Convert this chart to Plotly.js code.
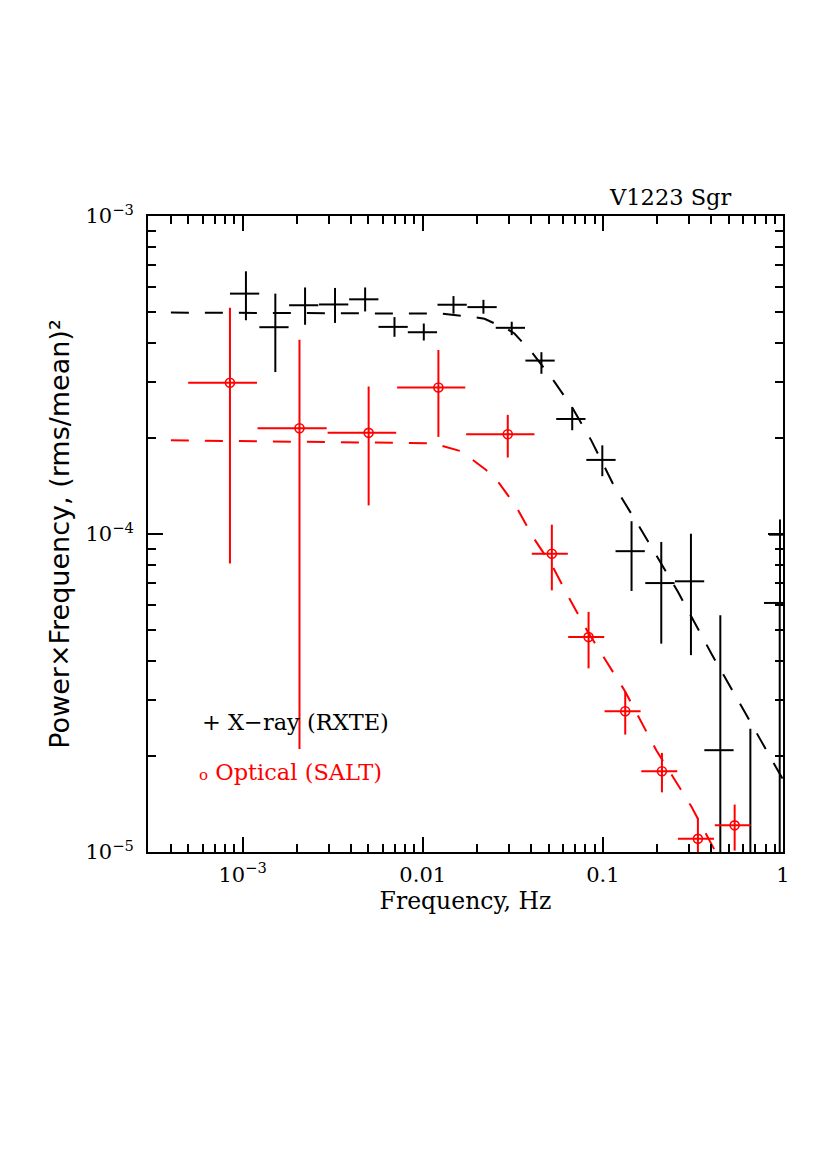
<!DOCTYPE html>
<html>
<head>
<meta charset="utf-8">
<script src="https://cdn.plot.ly/plotly-3.0.1.min.js"></script>
<style>html,body{margin:0;padding:0;background:#fff;}#chart{width:830px;height:1175px;}</style>
</head>
<body>
<div id="chart"></div>
<script>
// ---- X-ray (RXTE) power spectrum points ----
const xrayFreq   = [1.044e-3, 1.520e-3, 2.223e-3, 3.26e-3, 4.79e-3, 6.97e-3, 1.014e-2, 1.482e-2, 2.173e-2, 3.12e-2, 4.56e-2, 6.76e-2, 9.93e-2, 0.1443, 0.211, 0.3083, 0.4488, 0.659, 0.962, 0.959];
const xrayFreqLo = [8.51e-4, 1.239e-3, 1.812e-3, 2.657e-3, 3.904e-3, 5.681e-3, 8.264e-3, 1.208e-2, 1.771e-2, 2.543e-2, 3.716e-2, 5.509e-2, 8.093e-2, 0.1176, 0.1720, 0.2513, 0.3658, 0.537, 0.836, 0.784];
const xrayFreqHi = [1.237e-3, 1.801e-3, 2.634e-3, 3.863e-3, 5.676e-3, 8.259e-3, 1.2016e-2, 1.756e-2, 2.575e-2, 3.697e-2, 5.404e-2, 8.011e-2, 0.1177, 0.1710, 0.2500, 0.3653, 0.5318, 0.781, 1.14, 1.14];
const xrayPow    = [5.70e-4, 4.47e-4, 5.24e-4, 5.27e-4, 5.47e-4, 4.48e-4, 4.31e-4, 5.26e-4, 5.17e-4, 4.45e-4, 3.51e-4, 2.30e-4, 1.71e-4, 8.83e-5, 7.01e-5, 7.10e-5, 2.09e-5, 7.0e-6, 9.95e-5, 6.07e-5];
const xrayPowLo  = [4.70e-4, 3.23e-4, 4.55e-4, 4.61e-4, 5.01e-4, 4.17e-4, 4.06e-4, 4.93e-4, 4.93e-4, 4.22e-4, 3.19e-4, 2.12e-4, 1.52e-4, 6.62e-5, 4.52e-5, 4.16e-5, 1.0e-6, 1.0e-6, 6.07e-5, 1.0e-6];
const xrayPowHi  = [6.70e-4, 5.70e-4, 5.96e-4, 5.94e-4, 5.96e-4, 4.81e-4, 4.59e-4, 5.60e-4, 5.45e-4, 4.65e-4, 3.73e-4, 2.51e-4, 1.90e-4, 1.097e-4, 9.44e-5, 1.002e-4, 5.55e-5, 2.44e-5, 1.111e-4, 6.07e-5];

// ---- Optical (SALT) power spectrum points ----
const optFreq   = [8.51e-4, 2.07e-3, 5.01e-3, 1.222e-2, 2.966e-2, 0.0521, 0.0833, 0.1331, 0.2128, 0.337, 0.539];
const optFreqLo = [4.99e-4, 1.211e-3, 2.965e-3, 7.21e-3, 1.742e-2, 0.0403, 0.0642, 0.1022, 0.1634, 0.261, 0.418];
const optFreqHi = [1.202e-3, 2.93e-3, 7.12e-3, 1.723e-2, 4.17e-2, 0.0639, 0.1018, 0.1620, 0.259, 0.414, 0.662];
const optPow    = [2.99e-4, 2.15e-4, 2.08e-4, 2.89e-4, 2.06e-4, 8.67e-5, 4.74e-5, 2.77e-5, 1.795e-5, 1.10e-5, 1.213e-5];
const optPowLo  = [8.07e-5, 2.11e-5, 1.23e-4, 2.02e-4, 1.74e-4, 6.65e-5, 3.78e-5, 2.34e-5, 1.54e-5, 1.0e-6, 1.01e-5];
const optPowHi  = [5.15e-4, 4.08e-4, 2.91e-4, 3.79e-4, 2.37e-4, 1.07e-4, 5.69e-5, 3.20e-5, 2.05e-5, 1.28e-5, 1.41e-5];

// ---- Model curves ----
const xrayModelFreq = [4.0e-4, 9.59e-3, 0.01265, 0.01937, 0.02203, 0.02966, 0.0323, 0.0409, 0.0539, 0.0681, 0.0862, 0.1137, 0.1634, 0.261, 0.400, 0.621, 1.0];
const xrayModelPow  = [4.97e-4, 4.94e-4, 4.93e-4, 4.81e-4, 4.75e-4, 4.40e-4, 4.27e-4, 3.69e-4, 3.01e-4, 2.48e-4, 1.97e-4, 1.44e-4, 1.03e-4, 6.58e-5, 4.21e-5, 2.72e-5, 1.69e-5];
const optModelFreq  = [4.0e-4, 8.09e-3, 0.01137, 0.01635, 0.02250, 0.02668, 0.0330, 0.0409, 0.0528, 0.0653, 0.0826, 0.132, 0.198, 0.310, 0.418, 0.60];
const optModelPow   = [1.97e-4, 1.94e-4, 1.93e-4, 1.82e-4, 1.59e-4, 1.44e-4, 1.22e-4, 9.79e-5, 7.87e-5, 6.26e-5, 4.92e-5, 3.22e-5, 2.09e-5, 1.39e-5, 1.01e-5, 6.9e-6];

// ---- Axis ticks ----
const xTickVals = [1e-3, 1e-2, 1e-1, 1];
const xTickText = ['10<sup>−3</sup>', '0.01', '0.1', '1'];
const yTickVals = [1e-5, 1e-4, 1e-3];
const yTickText = ['10<sup>−5</sup>', '10<sup>−4</sup>', '10<sup>−3</sup>'];

const diff = (a, b) => a.map((v, i) => v - b[i]);

const FONT = 'DejaVu Serif, serif';

const traces = [
  {
    x: xrayModelFreq, y: xrayModelPow, mode: 'lines', type: 'scatter',
    line: {color: '#000', width: 2, dash: '18px,16px'}, hoverinfo: 'skip'
  },
  {
    x: optModelFreq, y: optModelPow, mode: 'lines', type: 'scatter',
    line: {color: '#ff0000', width: 2, dash: '18px,16px'}, hoverinfo: 'skip'
  },
  {
    x: xrayFreq, y: xrayPow, mode: 'markers', type: 'scatter',
    marker: {size: 2, color: 'rgba(0,0,0,0)'},
    error_x: {type: 'data', symmetric: false, array: diff(xrayFreqHi, xrayFreq), arrayminus: diff(xrayFreq, xrayFreqLo), width: 0, thickness: 2, color: '#000'},
    error_y: {type: 'data', symmetric: false, array: diff(xrayPowHi, xrayPow), arrayminus: diff(xrayPow, xrayPowLo), width: 0, thickness: 2, color: '#000'}
  },
  {
    x: optFreq, y: optPow, mode: 'markers', type: 'scatter',
    marker: {symbol: 'circle-open', size: 9, color: '#ff0000', line: {width: 1.6, color: '#ff0000'}},
    error_x: {type: 'data', symmetric: false, array: diff(optFreqHi, optFreq), arrayminus: diff(optFreq, optFreqLo), width: 0, thickness: 2, color: '#ff0000'},
    error_y: {type: 'data', symmetric: false, array: diff(optPowHi, optPow), arrayminus: diff(optPow, optPowLo), width: 0, thickness: 2, color: '#ff0000'}
  }
];

const axisCommon = {
  type: 'log', showline: true, linecolor: '#000', linewidth: 2, mirror: 'allticks',
  ticks: 'inside', ticklen: 15, tickwidth: 2, tickcolor: '#000',
  showgrid: false, zeroline: false, tickmode: 'array',
  tickfont: {family: FONT, size: 21, color: '#000'},
  minor: {ticks: 'inside', ticklen: 8, tickwidth: 2, tickcolor: '#000', dtick: 'D1', showgrid: false}
};

const layout = {
  width: 830, height: 1175,
  margin: {l: 148, r: 47, t: 216, b: 323},
  paper_bgcolor: '#fff', plot_bgcolor: '#fff',
  showlegend: false,
  xaxis: Object.assign({}, axisCommon, {
    range: [-3.525, 0], tickvals: xTickVals, ticktext: xTickText,
    ticklabelstandoff: 3,
    title: {text: 'Frequency, Hz', font: {family: FONT, size: 23.5, color: '#000'}, standoff: 3}
  }),
  yaxis: Object.assign({}, axisCommon, {
    range: [-5, -3], tickvals: yTickVals, ticktext: yTickText,
    ticklabelstandoff: 8,
    title: {text: 'Power×Frequency, (rms/mean)²', font: {family: 'DejaVu Sans, sans-serif', size: 27, color: '#000'}, standoff: 8}
  }),
  annotations: [
    {xref: 'paper', yref: 'paper', x: 0.921, y: 1.03, xanchor: 'right', yanchor: 'middle', showarrow: false,
     text: 'V1223 Sgr', font: {family: FONT, size: 22.5, color: '#000'}},
    {xref: 'paper', yref: 'paper', x: 0.0814, y: 0.2039, xanchor: 'left', yanchor: 'middle', showarrow: false,
     text: '+ X−ray (RXTE)', font: {family: FONT, size: 22.5, color: '#000'}},
    {xref: 'paper', yref: 'paper', x: 0.0767, y: 0.1253, xanchor: 'left', yanchor: 'middle', showarrow: false,
     text: '<span style="font-size:15px">o</span> Optical (SALT)', font: {family: FONT, size: 22.5, color: '#ff0000'}}
  ]
};

Plotly.newPlot('chart', traces, layout, {displayModeBar: false, staticPlot: true});
</script>
</body>
</html>
